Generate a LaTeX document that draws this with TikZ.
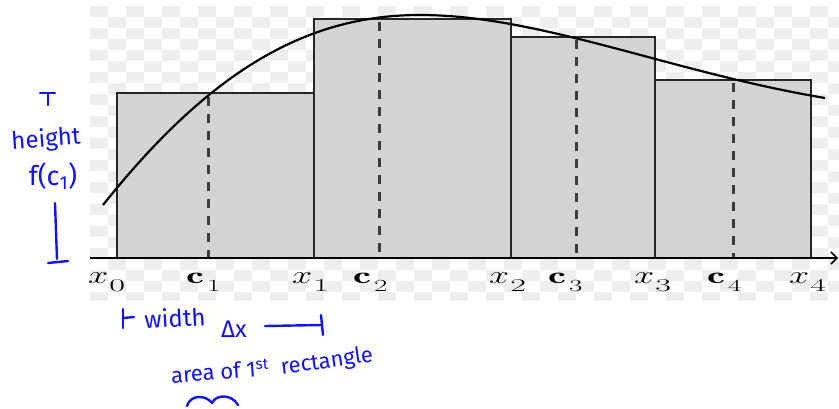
\documentclass[tikz,border=0pt]{standalone}
\usepackage{fontspec}
\usepackage{graphicx}
\newfontfamily\hand{Fira Sans}
\usetikzlibrary{arrows.meta}
\definecolor{ink}{HTML}{1414E6}
\definecolor{recfill}{HTML}{D4D4D4}
\definecolor{recline}{HTML}{262626}
\definecolor{checker}{HTML}{EEEEEE}
\definecolor{dashcol}{HTML}{3C3C3C}
\tikzset{
  bar/.style={fill=recfill, draw=recline, line width=1.7pt},
  midline/.style={draw=dashcol, line width=3pt, dash pattern=on 9pt off 8pt},
  fcurve/.style={draw=black, line width=2.2pt},
  axisline/.style={draw=black, line width=1.8pt},
  lab/.style={anchor=base west, inner sep=0pt, font=\fontsize{23}{25}\selectfont},
  handtext/.style={text=ink, inner sep=0pt, font=\hand\fontsize{24}{26}\selectfont},
  handline/.style={draw=ink, line width=2.4pt, line cap=round, line join=round}
}
\newcommand{\xl}[1]{\scalebox{1.45}[1]{$x$}\hspace{1pt}\lower8pt\hbox{\scalebox{1.9}[1]{\fontsize{18}{18}\selectfont #1}}}
\newcommand{\cl}[1]{\scalebox{1.75}[1]{$\mathbf{c}$}\hspace{3pt}\lower8pt\hbox{\scalebox{1.7}[1]{\fontsize{17}{17}\selectfont #1}}}
\begin{document}
\begin{tikzpicture}[x=1pt,y=-1pt]
\useasboundingbox (0,0) rectangle (839,408);
\fill[white] (0,0) rectangle (839,408);
% faint checkerboard background
\begin{scope}
\clip (88,6) rectangle (839,300);
\foreach \i in {0,...,41} {
  \foreach \j in {0,...,26} {
    \pgfmathtruncatemacro\cpar{mod(\i+\j,2)}
    \ifnum\cpar=0 \fill[checker] (90+18*\i,6+11*\j) rectangle ++(18,11); \fi
  }
}
\end{scope}
% rectangles
\path[bar] (117,258) rectangle (314,93);
\path[bar] (314,258) rectangle (511,19);
\path[bar] (511,258) rectangle (655,37);
\path[bar] (655,258) rectangle (811,80);
% dashed midpoints
\draw[midline] (208,97) -- (208,258);
\draw[midline] (379,22) -- (379,258);
\draw[midline] (576,40) -- (576,258);
\draw[midline] (733,83) -- (733,258);
% axis
\coordinate (axL) at (90,258);
\coordinate (axR) at (838,258);
\draw[axisline, -{Straight Barb[length=6pt,width=12pt,line width=1.5pt]}] (axL) -- (axR);
% curve
\coordinate (cS) at (103,205);
\coordinate (cP) at (420,15);
\coordinate (cE) at (825,98);
\draw[fcurve] (cS) .. controls (213,67) and (310,15) .. (cP)
  .. controls (540,15) and (670,72) .. (cE);
% axis labels
\node[lab] (x0) at (88,283) {\xl{0}};
\node[lab] (c1) at (186,283) {\cl{1}};
\node[lab] (x1) at (292,283) {\xl{1}};
\node[lab] (c2) at (353,283) {\cl{2}};
\node[lab] (x2) at (489,283) {\xl{2}};
\node[lab] (c3) at (548,283) {\cl{3}};
\node[lab] (x3) at (634,283) {\xl{3}};
\node[lab] (c4) at (707,283) {\cl{4}};
\node[lab] (x4) at (789,283) {\xl{4}};
% handwritten height annotation
\coordinate (hT1) at (40,93);
\coordinate (hT2) at (55,93);
\coordinate (hT3) at (48,93);
\coordinate (hT4) at (48,105);
\draw[handline] (hT1) -- (hT2);
\draw[handline] (hT3) -- (hT4);
\node[handtext, rotate=4] (hgt) at (46,140) {height};
\node[handtext, font=\hand\fontsize{27}{29}\selectfont] (fc) at (53,176) {f(c\textsubscript{1})};
\coordinate (hB1) at (55,203);
\coordinate (hB2) at (57,259);
\coordinate (hB3) at (48,263);
\coordinate (hB4) at (68,261);
\draw[handline] (hB1) -- (hB2);
\draw[handline] (hB3) -- (hB4);
% handwritten width annotation
\coordinate (wA1) at (123,309);
\coordinate (wA2) at (123,328);
\coordinate (wA3) at (123,318);
\coordinate (wA4) at (134,317);
\draw[handline] (wA1) -- (wA2);
\draw[handline] (wA3) -- (wA4);
\node[handtext, rotate=3] (wid) at (175,318) {width};
\node[handtext] (dx) at (234,329) {Δx};
\coordinate (wL) at (265,326);
\coordinate (wR) at (322,325);
\coordinate (wR1) at (321,315);
\coordinate (wR2) at (323,335);
\draw[handline] (wL) -- (wR);
\draw[handline] (wR1) -- (wR2);
% area annotation
\node[handtext, rotate=4, font=\hand\fontsize{22}{24}\selectfont] (area) at (220,371) {area of 1\textsuperscript{st}};
\node[handtext, rotate=8, font=\hand\fontsize{22}{24}\selectfont] (rect) at (327,362) {rectangle};
\coordinate (s1) at (187,406);
\coordinate (s2) at (238,405);
\draw[handline] (s1) .. controls (190,395) and (205,394) .. (212,403)
  .. controls (216,394) and (232,394) .. (s2);
\end{tikzpicture}
\end{document}
